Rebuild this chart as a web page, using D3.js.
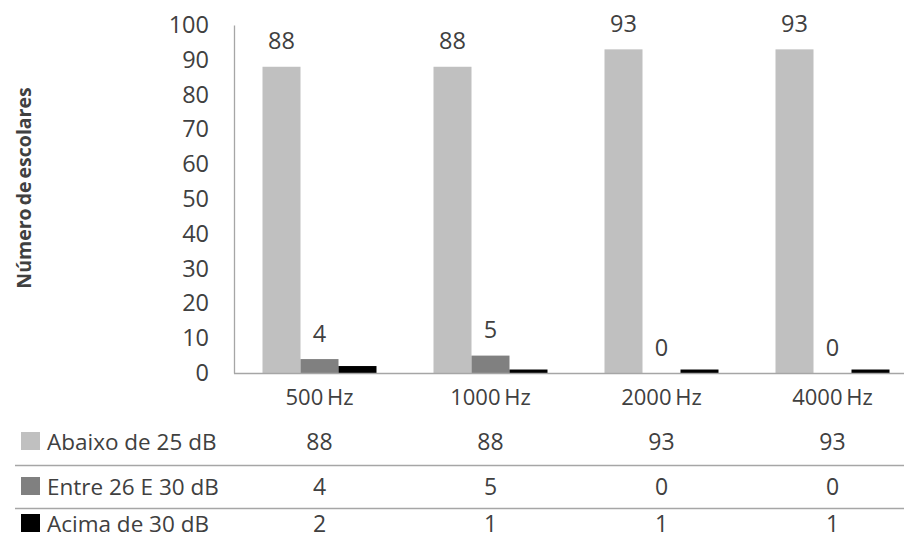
<!DOCTYPE html>
<html><head><meta charset="utf-8">
<script src="https://cdn.jsdelivr.net/npm/d3@7/dist/d3.min.js"></script>
<style>body{margin:0;background:#fff}svg text{font-family:"Open Sans","Liberation Sans",sans-serif;fill:#404040}</style>
</head><body><svg id="c" width="904" height="540"></svg>
<script>
const categories = ["500 Hz","1000 Hz","2000 Hz","4000 Hz"];
const seriesNames = ["Abaixo de 25 dB","Entre 26 E 30 dB","Acima de 30 dB"];
const abaixo = [88,88,93,93];
const entre = [4,5,0,0];
const acima = [2,1,1,1];
const yTicks = [0,10,20,30,40,50,60,70,80,90,100];
const colors = ["#c0c0c0","#808080","#000000"];
const series = [abaixo, entre, acima];
const labelled = [true,true,false];

const svg = d3.select("#c");
const pL = 234, pR = 918, pT = 25, pB = 373;
const x = d3.scaleBand().domain(categories).range([pL,pR]).paddingInner(0).paddingOuter(0);
const xs = d3.scaleBand().domain([0,1,2]).range([0,x.bandwidth()]).paddingInner(0).paddingOuter(0.75);
const y = d3.scaleLinear().domain([0,100]).range([pB,pT]);

const yAxis = d3.axisLeft(y).tickValues(yTicks).tickSize(0).tickPadding(25);
const ga = svg.append("g").attr("transform",`translate(${pL},0)`).call(yAxis);
ga.select(".domain").attr("stroke","#a6a6a6").attr("stroke-width",1.3);
ga.selectAll("text").style("font-size","23.5px").attr("fill","#404040").style("font-family",'"Open Sans","Liberation Sans",sans-serif');

series.forEach((vals,si)=>{
  svg.append("g").selectAll("rect").data(vals).join("rect")
    .attr("x",(d,i)=>x(categories[i])+xs(si))
    .attr("width",xs.bandwidth())
    .attr("y",d=>y(d))
    .attr("height",d=>y(0)-y(d))
    .attr("fill",colors[si]);
  if(labelled[si]){
    svg.append("g").selectAll("text").data(vals).join("text")
      .attr("x",(d,i)=>x(categories[i])+xs(si)+xs.bandwidth()/2)
      .attr("y",d=>y(d)-17.5)
      .attr("text-anchor","middle")
      .style("font-size","23.5px")
      .text(d=>d);
  }
});

svg.append("line").attr("x1",pL).attr("x2",904).attr("y1",pB+0.5).attr("y2",pB+0.5)
  .attr("stroke","#a6a6a6").attr("stroke-width",1.3);

svg.append("g").selectAll("text").data(categories).join("text")
  .attr("x",d=>x(d)+x.bandwidth()/2)
  .attr("y",405)
  .attr("text-anchor","middle")
  .style("font-size","22px")
  .style("word-spacing","-2px")
  .text(d=>d);

svg.append("text").attr("transform","translate(31,188) rotate(-90)")
  .attr("text-anchor","middle").style("font-size","19.5px").style("font-weight","bold")
  .style("word-spacing","-2px")
  .attr("fill","#262626").text("Número de escolares");

const rowY = [450,495,532];
const sepY = [465.5,508.5];
sepY.forEach(sy=>svg.append("line").attr("x1",15).attr("x2",904).attr("y1",sy).attr("y2",sy)
  .attr("stroke","#a6a6a6").attr("stroke-width",1.5));
series.forEach((vals,si)=>{
  svg.append("rect").attr("x",21).attr("y",rowY[si]-18).attr("width",19).attr("height",18).attr("fill",colors[si]);
  svg.append("text").attr("x",47).attr("y",rowY[si]).style("font-size","22.5px").text(seriesNames[si]);
  svg.append("g").selectAll("text").data(vals).join("text")
    .attr("x",(d,i)=>x(categories[i])+x.bandwidth()/2)
    .attr("y",rowY[si])
    .attr("text-anchor","middle")
    .style("font-size","23px")
    .text(d=>d);
});
</script></body></html>
